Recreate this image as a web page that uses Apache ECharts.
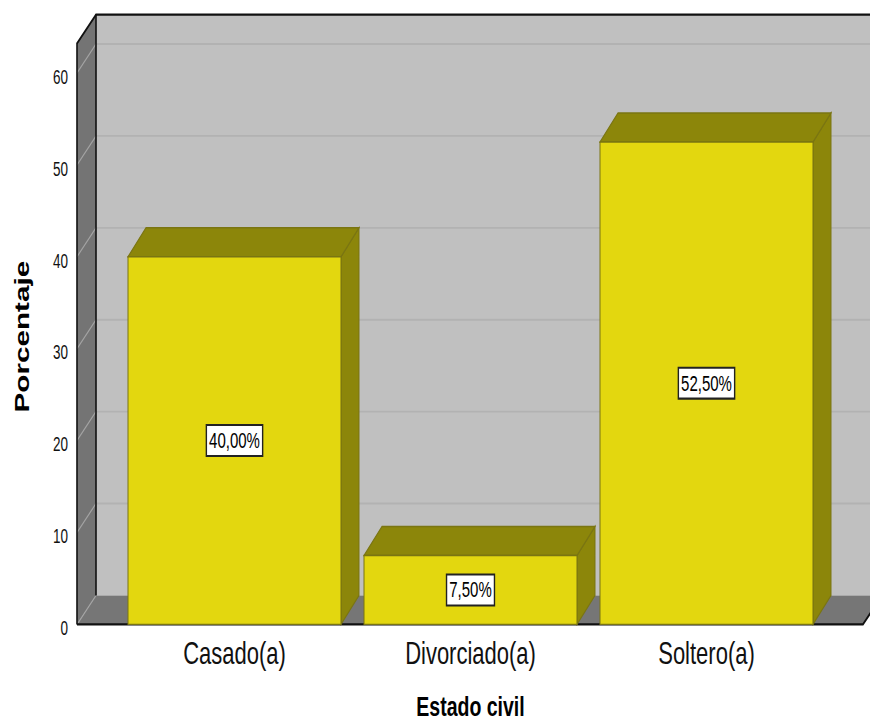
<!DOCTYPE html>
<html>
<head>
<meta charset="utf-8">
<script src="https://cdn.jsdelivr.net/npm/echarts@6/dist/echarts.min.js"></script>
<style>
  html, body { margin: 0; padding: 0; background: #fff; }
  #page { width: 870px; height: 724px; position: relative; overflow: hidden; }
  /* the chart is laid out in a shorter box and stretched vertically */
  #chart { position: absolute; left: 0; top: 0; width: 870px; height: 500px; transform: scaleY(1.448); transform-origin: 0 0; }
</style>
</head>
<body>
<div id="page"><div id="chart"></div></div>
<script>
// Estado civil — porcentaje por categoría
const categories = ['Casado(a)', 'Divorciado(a)', 'Soltero(a)'];
const percentages = [40.0, 7.5, 52.5];
const yTicks = [0, 10, 20, 30, 40, 50, 60];

// 3D frame and bar depth styling
const WALL_TOP = 63.2;          // value at which the walls end
const DEPTH_X = 19, DEPTH_Y = -20;
const BAR_DEPTH_X = 18, BAR_DEPTH_Y = -20;
const FRONT_GAP_LEFT = 39.5, FRONT_GAP_RIGHT = 38.5;
const SANS = "'Liberation Sans', Arial, Helvetica, sans-serif";

const chart = echarts.init(document.getElementById('chart'), null, { renderer: 'svg' });

function fmtPct(v) {
  return v.toFixed(2).replace('.', ',') + '%';
}

function renderFrame(params, api) {
  const cs = params.coordSys;
  const x0 = cs.x - FRONT_GAP_LEFT;                 // front left edge
  const x1 = cs.x + cs.width + FRONT_GAP_RIGHT;     // front right edge of floor
  const yZero = api.coord([0, 0])[1];
  const yTop = api.coord([0, WALL_TOP])[1];
  const bx0 = x0 + DEPTH_X;
  const bx1 = x1 + DEPTH_X + 40;
  const children = [];
  // back wall
  children.push({ type: 'polygon', shape: { points: [[bx0, yTop + DEPTH_Y], [bx1, yTop + DEPTH_Y], [bx1, yZero + DEPTH_Y], [bx0, yZero + DEPTH_Y]] },
    style: { fill: '#c0c0c0' } });
  // left wall
  children.push({ type: 'polygon', shape: { points: [[x0, yZero], [x0, yTop], [bx0, yTop + DEPTH_Y], [bx0, yZero + DEPTH_Y]] },
    style: { fill: '#747474' } });
  // floor
  children.push({ type: 'polygon', shape: { points: [[x0, yZero], [bx0, yZero + DEPTH_Y], [x1 + DEPTH_X, yZero + DEPTH_Y], [x1, yZero]] },
    style: { fill: '#767676' } });
  // grid lines on back wall and left wall
  yTicks.forEach(function (t) {
    const y = api.coord([0, t])[1];
    if (t > 0) {
      children.push({ type: 'line', shape: { x1: bx0, y1: y + DEPTH_Y, x2: bx1, y2: y + DEPTH_Y },
        style: { stroke: '#b2b2b2', lineWidth: 1.3 } });
    }
    children.push({ type: 'line', shape: { x1: x0, y1: y, x2: bx0, y2: y + DEPTH_Y },
      style: { stroke: '#a4a4a4', lineWidth: 1 } });
  });
  // dark edges
  const edge = { stroke: '#111', lineWidth: 1.6 };
  children.push({ type: 'polyline', shape: { points: [[x0, yZero], [x0, yTop], [bx0, yTop + DEPTH_Y], [bx1, yTop + DEPTH_Y]] }, style: Object.assign({ fill: null }, edge) });
  children.push({ type: 'line', shape: { x1: bx0, y1: yTop + DEPTH_Y, x2: bx0, y2: yZero + DEPTH_Y }, style: edge });
  children.push({ type: 'polyline', shape: { points: [[x0, yZero], [x1, yZero], [x1 + DEPTH_X, yZero + DEPTH_Y]] }, style: Object.assign({ fill: null }, edge) });
  return { type: 'group', children: children };
}

function renderBar(params, api) {
  const idx = api.value(0);
  const val = api.value(1);
  const base = api.coord([idx, 0]);
  const top = api.coord([idx, val]);
  const w = api.size([1, 0])[0] * 0.9025;
  const L = base[0] - w / 2, R = base[0] + w / 2;
  const yb = base[1], yt = top[1];
  const dx = BAR_DEPTH_X, dy = BAR_DEPTH_Y;
  const outline = '#7a7512';
  const mid = api.coord([idx, val / 2]);
  return {
    type: 'group',
    children: [
      { type: 'polygon', shape: { points: [[R, yt], [R + dx, yt + dy], [R + dx, yb + dy], [R, yb]] },
        style: { fill: '#8c860a', stroke: outline, lineWidth: 1 } },
      { type: 'polygon', shape: { points: [[L, yt], [L + dx, yt + dy], [R + dx, yt + dy], [R, yt]] },
        style: { fill: '#8c860a', stroke: outline, lineWidth: 1 } },
      { type: 'rect', shape: { x: L, y: yt, width: w, height: yb - yt },
        style: { fill: '#e3d70f', stroke: outline, lineWidth: 1 } },
      { type: 'text', x: mid[0], y: mid[1],
        style: { text: fmtPct(val), fill: '#000', font: '15px ' + SANS,
          align: 'center', verticalAlign: 'middle', lineHeight: 15,
          backgroundColor: '#ffffff', borderColor: '#222', borderWidth: 1.4,
          padding: [3, 2, 2, 2] } }
    ]
  };
}

const option = {
  animation: false,
  backgroundColor: '#ffffff',
  grid: { left: 116.5, width: 708, top: 50.4, height: 380.8, containLabel: false, outerBoundsMode: 'none' },
  xAxis: {
    type: 'category',
    data: categories,
    axisLine: { show: false },
    axisTick: { show: false },
    axisLabel: { color: '#111', fontFamily: SANS, fontSize: 22, margin: 9 },
    name: 'Estado civil',
    nameLocation: 'middle',
    nameGap: 46.5,
    nameTextStyle: { color: '#000', fontFamily: SANS, fontWeight: 'bold', fontSize: 19.5 }
  },
  yAxis: {
    type: 'value',
    min: 0, max: 60, interval: 10,
    axisLine: { show: false },
    axisTick: { show: false },
    splitLine: { show: false },
    axisLabel: { color: '#111', fontFamily: SANS, fontSize: 13.5, margin: 48.5, verticalAlign: 'top', lineHeight: 6 }
  },
  graphic: [
    { type: 'text', x: 22, y: 232.5, rotation: Math.PI / 2,
      style: { text: 'Porcentaje', fill: '#000', font: 'bold 20.5px ' + SANS,
        align: 'center', verticalAlign: 'middle' } }
  ],
  series: [
    { type: 'custom', name: 'frame', data: [[0, 0]], renderItem: renderFrame, clip: false, z: 1, silent: true },
    { type: 'custom', name: 'Porcentaje', data: percentages.map(function (v, i) { return [i, v]; }),
      encode: { x: 0, y: 1 }, renderItem: renderBar, clip: false, z: 2 }
  ]
};

chart.setOption(option);
</script>
</body>
</html>
